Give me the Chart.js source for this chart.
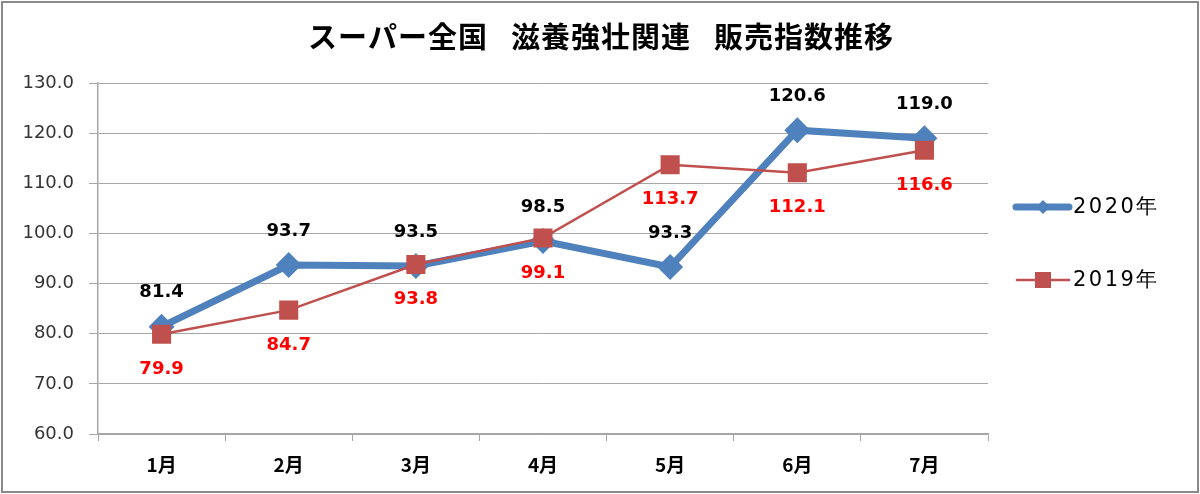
<!DOCTYPE html>
<html>
<head>
<meta charset="utf-8">
<script src="https://cdn.jsdelivr.net/npm/chart.js@4/dist/chart.umd.min.js"></script>
<style>
  html, body { margin: 0; padding: 0; background: #fff; }
  #wrap { width: 1200px; height: 494px; }
</style>
</head>
<body>
<div id="wrap"><canvas id="indexChart" width="1200" height="494"></canvas></div>
<script>
const titleText = 'スーパー全国 \u2002滋養強壮関連 \u2002販売指数推移';
const months = ['1月', '2月', '3月', '4月', '5月', '6月', '7月'];
const seriesNames = ['2020年', '2019年'];
const values2020 = [81.4, 93.7, 93.5, 98.5, 93.3, 120.6, 119.0];
const values2019 = [79.9, 84.7, 93.8, 99.1, 113.7, 112.1, 116.6];
const yMin = 60;
const yMax = 130;
const yStep = 10;

const blue = '#4F81BD';
const red = '#C0504D';
const gridGray = '#a6a6a6';

const canvas = document.getElementById('indexChart');
const ctx = canvas.getContext('2d');

// white page, grey frame and the title
const framePlugin = {
    id: 'frame',
    beforeDraw(chart) {
        const c = chart.ctx;
        c.save();
        c.fillStyle = '#fff';
        c.fillRect(0, 0, chart.width, chart.height);
        c.strokeStyle = '#8a8a8a';
        c.lineWidth = 2;
        c.strokeRect(2, 2, chart.width - 4, chart.height - 4);
        c.fillStyle = '#000';
        c.font = 'bold 29px "Noto Sans CJK JP"';
        c.letterSpacing = '1px';
        c.textAlign = 'center';
        c.textBaseline = 'middle';
        c.fillText(titleText, 601, 37);
        c.restore();
    }
};

// value labels: 2020 above the points in black, 2019 below in red
const valueLabels = {
    id: 'valueLabels',
    afterDatasetsDraw(chart) {
        const c = chart.ctx;
        c.save();
        c.font = 'bold 18px "DejaVu Sans"';
        c.textAlign = 'center';
        c.textBaseline = 'middle';
        chart.data.datasets.forEach((ds, i) => {
            const meta = chart.getDatasetMeta(i);
            const above = i === 0;
            c.fillStyle = above ? '#000' : '#FF0000';
            meta.data.forEach((pt, j) => {
                const y = above ? pt.y - 34 : pt.y + 35;
                c.fillText(ds.data[j].toFixed(1), pt.x, y);
            });
        });
        c.restore();
    }
};

// legend on the right, line with the marker in the middle
const sideLegend = {
    id: 'sideLegend',
    afterDraw(chart) {
        const c = chart.ctx;
        const rows = [207, 280];
        c.save();
        chart.data.datasets.forEach((ds, i) => {
            const y = rows[i];
            c.strokeStyle = ds.borderColor;
            c.fillStyle = ds.backgroundColor;
            c.lineCap = 'round';
            c.lineWidth = i === 0 ? 7 : 2.5;
            c.beginPath();
            c.moveTo(i === 0 ? 1016 : 1017, y);
            c.lineTo(1069, y);
            c.stroke();
            if (i === 0) {
                c.beginPath();
                c.moveTo(1043, y - 7);
                c.lineTo(1050, y);
                c.lineTo(1043, y + 7);
                c.lineTo(1036, y);
                c.closePath();
                c.fill();
            } else {
                c.fillRect(1035, y - 8, 16, 16);
            }
            c.fillStyle = '#000';
            c.font = '21px "DejaVu Sans"';
            c.letterSpacing = '2.5px';
            c.textAlign = 'left';
            c.textBaseline = 'middle';
            c.fillText(ds.label, 1073, y + 1);
        });
        c.restore();
    }
};

new Chart(ctx, {
    type: 'line',
    data: {
        labels: months,
        datasets: [
            {
                label: seriesNames[0],
                data: values2020,
                borderColor: blue,
                backgroundColor: blue,
                borderWidth: 7,
                pointStyle: 'rectRot',
                pointRadius: 13,
                pointBorderWidth: 0,
                pointBackgroundColor: blue,
                order: 2
            },
            {
                label: seriesNames[1],
                data: values2019,
                borderColor: red,
                backgroundColor: red,
                borderWidth: 2.5,
                pointStyle: 'rect',
                pointRadius: 13.5,
                pointBorderWidth: 0,
                pointBackgroundColor: red,
                order: 1
            }
        ]
    },
    options: {
        responsive: false,
        animation: false,
        layout: { padding: { top: 83, right: 212, bottom: 0, left: 0 } },
        plugins: {
            legend: { display: false },
            title: { display: false },
            tooltip: { enabled: false }
        },
        scales: {
            x: {
                offset: true,
                grid: {
                    offset: true,
                    drawOnChartArea: false,
                    color: gridGray,
                    tickLength: 7
                },
                border: { color: gridGray, width: 1.5 },
                ticks: {
                    color: '#000',
                    font: { family: '"Noto Sans CJK JP"', size: 19, weight: 'bold' },
                    padding: 12,
                    maxRotation: 0
                },
                afterFit(scale) { scale.height = 60; }
            },
            y: {
                min: yMin,
                max: yMax,
                grid: { color: gridGray, tickLength: 9 },
                border: { color: gridGray, width: 1.5 },
                ticks: {
                    stepSize: yStep,
                    color: '#333',
                    font: { family: '"DejaVu Sans"', size: 18 },
                    padding: 15,
                    callback: v => v.toFixed(1)
                },
                afterFit(scale) { scale.width = 98; }
            }
        }
    },
    plugins: [framePlugin, valueLabels, sideLegend]
});
</script>
</body>
</html>
